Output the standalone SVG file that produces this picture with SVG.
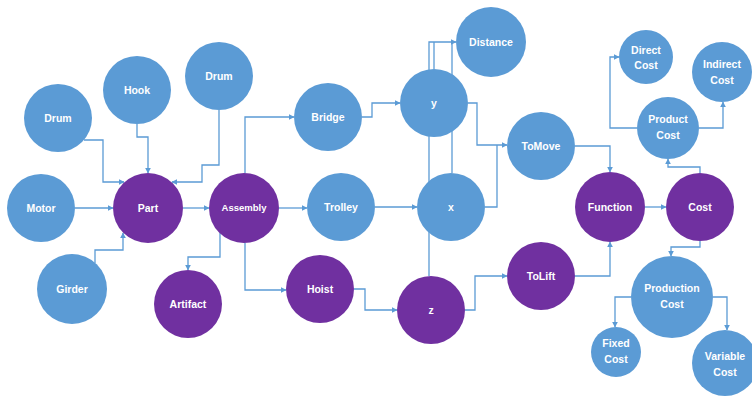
<svg xmlns="http://www.w3.org/2000/svg" width="752" height="396" viewBox="0 0 752 396">
  <style>
    .blue { fill: #5B9BD5; }
    .purple { fill: #7030A0; }
    .lbl { fill: #ffffff; font-family: "Liberation Sans", Arial, sans-serif; font-size: 10.5px; font-weight: bold; text-anchor: middle; }
    .small { font-size: 9.5px; }
    .conn path { fill: none; stroke: #5B9BD5; stroke-width: 1.3; }
    .arr { marker-end: url(#head); }
  </style>
  <defs>
    <marker id="head" viewBox="0 0 10 10" refX="9" refY="5" markerWidth="6" markerHeight="6" markerUnits="userSpaceOnUse" orient="auto">
      <path d="M0,0 L10,5 L0,10 Z" fill="#5B9BD5"/>
    </marker>
  </defs>
  <rect width="752" height="396" fill="#ffffff"/>

  <g id="connectors" class="conn">
    <path class="arr" d="M84,140 H103 V182 H124"/>
    <path class="arr" d="M137,124 V137 H148 V173"/>
    <path class="arr" d="M219,110 V165 H202 V182 H172"/>
    <path class="arr" d="M75,208 H113"/>
    <path class="arr" d="M95,263 V250 H123 V233"/>
    <path class="arr" d="M183,208 H209"/>
    <path class="arr" d="M220,233 V257 H188 V270"/>
    <path class="arr" d="M245,173 V117 H294"/>
    <path class="arr" d="M279,208 H307"/>
    <path class="arr" d="M245,243 V290 H286"/>
    <path class="arr" d="M362,117 H372 V103 H400"/>
    <path class="arr" d="M375,207 H417"/>
    <path class="arr" d="M354,289 H365 V310 H397"/>
    <path class="arr" d="M429,276 V42 H456"/>
    <path d="M434,69 V42"/>
    <path d="M452,173 V42"/>
    <path class="arr" d="M468,103 H477 V145 H507"/>
    <path d="M485,207 H497 V145"/>
    <path class="arr" d="M465,310 H475 V276 H507"/>
    <path class="arr" d="M575,146 H610 V172"/>
    <path class="arr" d="M575,276 H610 V242"/>
    <path class="arr" d="M645,207 H666"/>
    <path class="arr" d="M700,173 V167 H668 V159"/>
    <path class="arr" d="M637,128 H610 V57 H619"/>
    <path class="arr" d="M699,128 H723 V102"/>
    <path class="arr" d="M700,241 V247 H671 V256"/>
    <path class="arr" d="M631,297 H615 V327"/>
    <path class="arr" d="M713,297 H727 V330"/>
  </g>

  <g id="drum-left"><circle class="blue" cx="58" cy="118" r="34"/><text class="lbl" x="58" y="122">Drum</text></g>
  <g id="hook"><circle class="blue" cx="137" cy="90" r="34"/><text class="lbl" x="137" y="94">Hook</text></g>
  <g id="drum-top"><circle class="blue" cx="219" cy="76" r="34"/><text class="lbl" x="219" y="80">Drum</text></g>
  <g id="motor"><circle class="blue" cx="41" cy="208" r="34"/><text class="lbl" x="41" y="212">Motor</text></g>
  <g id="part"><circle class="purple" cx="148" cy="208" r="35"/><text class="lbl" x="148" y="212">Part</text></g>
  <g id="assembly"><circle class="purple" cx="244" cy="208" r="35"/><text class="lbl small" x="244" y="211">Assembly</text></g>
  <g id="girder"><circle class="blue" cx="72" cy="289" r="35"/><text class="lbl" x="72" y="293">Girder</text></g>
  <g id="artifact"><circle class="purple" cx="188" cy="304" r="34"/><text class="lbl" x="188" y="308">Artifact</text></g>
  <g id="bridge"><circle class="blue" cx="328" cy="117" r="34"/><text class="lbl" x="328" y="121">Bridge</text></g>
  <g id="trolley"><circle class="blue" cx="341" cy="207" r="34"/><text class="lbl" x="341" y="211">Trolley</text></g>
  <g id="hoist"><circle class="purple" cx="320" cy="289" r="34"/><text class="lbl" x="320" y="293">Hoist</text></g>
  <g id="y"><circle class="blue" cx="434" cy="103" r="34"/><text class="lbl" x="434" y="107">y</text></g>
  <g id="x"><circle class="blue" cx="451" cy="207" r="34"/><text class="lbl" x="451" y="211">x</text></g>
  <g id="z"><circle class="purple" cx="431" cy="310" r="34"/><text class="lbl" x="431" y="314">z</text></g>
  <g id="distance"><circle class="blue" cx="491" cy="42" r="35"/><text class="lbl" x="491" y="46">Distance</text></g>
  <g id="tomove"><circle class="blue" cx="541" cy="146" r="34"/><text class="lbl" x="541" y="150">ToMove</text></g>
  <g id="tolift"><circle class="purple" cx="541" cy="276" r="34"/><text class="lbl" x="541" y="280">ToLift</text></g>
  <g id="function"><circle class="purple" cx="610" cy="207" r="35"/><text class="lbl" x="610" y="211">Function</text></g>
  <g id="cost"><circle class="purple" cx="700" cy="207" r="34"/><text class="lbl" x="700" y="211">Cost</text></g>
  <g id="direct-cost"><circle class="blue" cx="646" cy="57" r="27"/><text class="lbl" x="646" y="54">Direct</text><text class="lbl" x="646" y="69">Cost</text></g>
  <g id="indirect-cost"><circle class="blue" cx="722" cy="72" r="30"/><text class="lbl" x="722" y="68">Indirect</text><text class="lbl" x="722" y="84">Cost</text></g>
  <g id="product-cost"><circle class="blue" cx="668" cy="128" r="31"/><text class="lbl" x="668" y="123">Product</text><text class="lbl" x="668" y="139">Cost</text></g>
  <g id="production-cost"><circle class="blue" cx="672" cy="297" r="41"/><text class="lbl" x="672" y="292">Production</text><text class="lbl" x="672" y="308">Cost</text></g>
  <g id="fixed-cost"><circle class="blue" cx="616" cy="352" r="25"/><text class="lbl" x="616" y="347">Fixed</text><text class="lbl" x="616" y="363">Cost</text></g>
  <g id="variable-cost"><circle class="blue" cx="725" cy="363" r="33"/><text class="lbl" x="725" y="360">Variable</text><text class="lbl" x="725" y="376">Cost</text></g>
</svg>
